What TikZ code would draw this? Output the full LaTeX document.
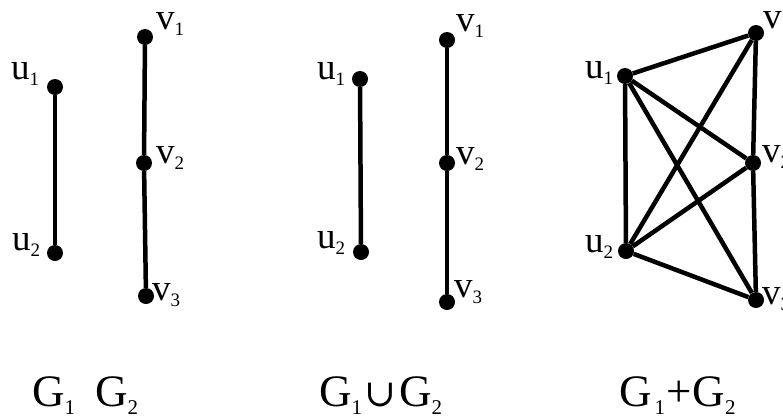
\documentclass[tikz,border=0pt]{standalone}
\usepackage{fontspec}
\setmainfont{Liberation Serif}
\newfontfamily\symfont{DejaVu Serif}
\newcommand\vlab[2]{#1\raisebox{-6pt}{\fontsize{19}{19}\selectfont #2}}
\newcommand\glab[1]{G\raisebox{-8pt}{\fontsize{21}{21}\selectfont #1}}
\begin{document}
\begin{tikzpicture}[x=1pt,y=-1pt,
  vert/.style={circle,fill=black,inner sep=0pt,minimum size=16pt},
  edge/.style={line width=4.5pt},
  vtext/.style={anchor=base west,inner sep=0pt,font=\fontsize{37}{37}\selectfont},
  gtext/.style={anchor=base west,inner sep=0pt,font=\fontsize{45}{45}\selectfont}]
\useasboundingbox (0,0) rectangle (783,416);
% G1
\node[vert] (a1) at (55,87) {};
\node[vert] (a2) at (55,253) {};
\draw[edge] (a1) -- (a2);
\node[vtext] (la1) at (11,79) {\vlab{u}{1}};
\node[vtext] (la2) at (12,250) {\vlab{u}{2}};
% G2
\node[vert] (b1) at (145,37) {};
\node[vert] (b2) at (144,163) {};
\node[vert] (b3) at (146,296) {};
\draw[edge] (b1) -- (b2) -- (b3);
\node[vtext] (lb1) at (156,29) {\vlab{v}{1}};
\node[vtext] (lb2) at (156,163) {\vlab{v}{2}};
\node[vtext] (lb3) at (152,300) {\vlab{v}{3}};
% Union
\node[vert] (c1) at (360,79) {};
\node[vert] (c2) at (361,252) {};
\node[vert] (c3) at (447,40) {};
\node[vert] (c4) at (447,163) {};
\node[vert] (c5) at (447,302) {};
\draw[edge] (c1) -- (c2);
\draw[edge] (c3) -- (c4) -- (c5);
\node[vtext] (lc1) at (317,79) {\vlab{u}{1}};
\node[vtext] (lc2) at (317,248) {\vlab{u}{2}};
\node[vtext] (lc3) at (456,31) {\vlab{v}{1}};
\node[vtext] (lc4) at (456,164) {\vlab{v}{2}};
\node[vtext] (lc5) at (454,297) {\vlab{v}{3}};
% Join
\node[vert] (d1) at (625,76) {};
\node[vert] (d2) at (626,251) {};
\node[vert] (d3) at (756,33) {};
\node[vert] (d4) at (753,163) {};
\node[vert] (d5) at (756,300) {};
\draw[edge] (d1) -- (d2);
\draw[edge] (d3) -- (d4) -- (d5);
\draw[edge] (d1) -- (d3);
\draw[edge] (d1) -- (d4);
\draw[edge] (d1) -- (d5);
\draw[edge] (d2) -- (d3);
\draw[edge] (d2) -- (d4);
\draw[edge] (d2) -- (d5);
\node[vtext] (ld1) at (585,78) {\vlab{u}{1}};
\node[vtext] (ld2) at (585,252) {\vlab{u}{2}};
\node[vtext] (ld3) at (763,28) {\vlab{v}{1}};
\node[vtext] (ld4) at (762,162) {\vlab{v}{2}};
\node[vtext] (ld5) at (762,304) {\vlab{v}{3}};
% captions
\node[gtext] (t1) at (32,406) {\glab{1}};
\node[gtext] (t2) at (95,406) {\glab{2}};
\node[gtext] (t3) at (319,406) {\glab{1}\hspace{2pt}{\symfont\fontsize{38}{38}\selectfont ∪}\hspace{3pt}\glab{2}};
\node[gtext] (t4) at (619,406) {G\hspace{3pt}\raisebox{-8pt}{\fontsize{21}{21}\selectfont 1}\hspace{1pt}+\hspace{1pt}\glab{2}};
\end{tikzpicture}
\end{document}
